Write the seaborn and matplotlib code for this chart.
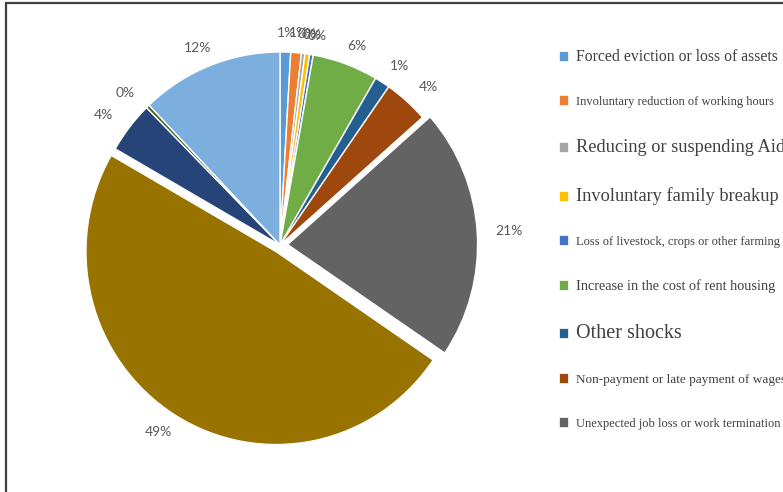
import matplotlib
matplotlib.use("Agg")
import numpy as np
import matplotlib.pyplot as plt
from matplotlib.lines import Line2D
import seaborn as sns

# Shock categories shown in the legend (first nine slices)
shock_labels = [
    "Forced eviction or loss of assets",
    "Involuntary reduction of working hours",
    "Reducing or suspending Aids",
    "Involuntary family breakup",
    "Loss of livestock, crops or other farming",
    "Increase in the cost of rent housing",
    "Other shocks",
    "Non-payment or late payment of wages",
    "Unexpected job loss or work termination",
]

# Share of households (%) for each slice, clockwise from 12 o'clock
shares = [0.9, 0.9, 0.3, 0.4, 0.3, 5.6, 1.3, 3.8, 21.0, 48.8, 4.3, 0.3, 12.1]

slice_colors = [
    "#5B9BD5", "#ED7D31", "#A5A5A5", "#FFC000", "#4472C4", "#70AD47",
    "#255E91", "#9E480E", "#636363", "#997300", "#264478", "#43682B",
    "#7CAFDD",
]

sns.set_theme(style="white")
plt.rcParams["font.family"] = ["Lato", "DejaVu Sans"]

fig = plt.figure(figsize=(7.83, 4.92), dpi=100)
fig.patch.set_facecolor("white")

W, H = 783.0, 492.0
ax = fig.add_axes([42.5 / W, 5.75 / H, 475 / W, 482.5 / H])

explode = [0, 0, 0, 0, 0, 0, 0, 0, 0.04, 0.04, 0, 0, 0]

wedges, texts, autotexts = ax.pie(
    shares,
    colors=slice_colors,
    explode=explode,
    startangle=90,
    counterclock=False,
    autopct="%1.0f%%",
    pctdistance=1.13,
    wedgeprops=dict(edgecolor="white", linewidth=1.0),
    textprops=dict(color="#595959", fontsize=10),
)

# Percentage labels sit on a slightly flattened ring outside the pie
label_rx, label_ry = 1.17, 1.10
for w, t in zip(wedges, autotexts):
    mid = np.deg2rad(0.5 * (w.theta1 + w.theta2))
    cx, cy = w.center
    t.set_position((cx + label_rx * np.cos(mid), cy + label_ry * np.sin(mid)))
    t.set_ha("center")
    t.set_va("center")

ax.set_aspect("auto")
ax.set_xlim(-1.25, 1.25)
ax.set_ylim(-1.25, 1.25)
ax.axis("off")

legend_sizes = [11.3, 9.0, 13.2, 13.2, 9.0, 10.3, 14.5, 9.5, 9.0]

leg = fig.legend(
    handles=wedges[:9],
    labels=shock_labels,
    loc="upper left",
    bbox_to_anchor=(553 / W, 1 - 43 / H),
    frameon=False,
    fontsize=10,
    handlelength=0.7,
    handleheight=0.7,
    handletextpad=0.55,
    labelspacing=2.22,
    borderaxespad=0,
)
for txt, size in zip(leg.get_texts(), legend_sizes):
    txt.set_fontsize(size)
    txt.set_family(["Liberation Serif", "DejaVu Serif"])
    txt.set_color("#404040")
for h in leg.legend_handles:
    h.set_edgecolor("white")
    h.set_linewidth(0.5)

# Frame lines along the top and left edges
fig.add_artist(Line2D([5.5 / W, 1.0], [1 - 3 / H, 1 - 3 / H],
                      transform=fig.transFigure, color="#404040", linewidth=1.6))
fig.add_artist(Line2D([5.5 / W, 5.5 / W], [0.0, 1 - 3 / H],
                      transform=fig.transFigure, color="#404040", linewidth=1.6))

fig.savefig("out.png", dpi=100, facecolor="white")
